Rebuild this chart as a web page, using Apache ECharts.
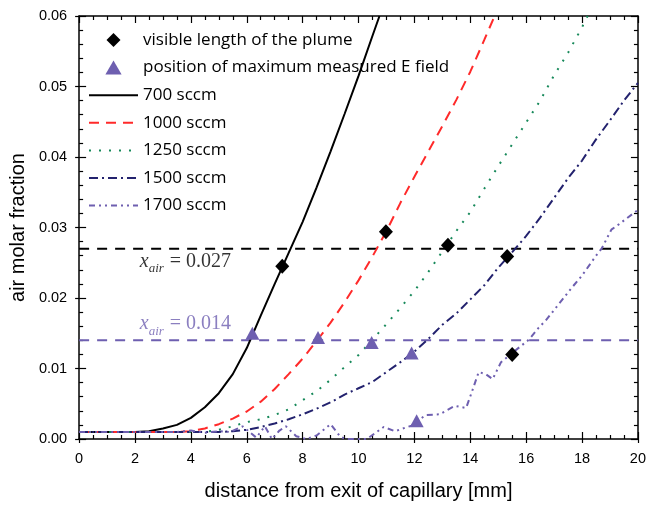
<!DOCTYPE html>
<html><head><meta charset="utf-8">
<script src="https://cdn.jsdelivr.net/npm/echarts@6/dist/echarts.min.js"></script>
<style>html,body{margin:0;padding:0;background:#fff}#c{width:649px;height:506px}</style>
</head><body><div id="c"></div>
<script>
// ---- data ----
const xTickLabels = ['0','2','4','6','8','10','12','14','16','18','20'];
const yTickLabels = ['0.00','0.01','0.02','0.03','0.04','0.05','0.06'];

const s700X  = [0,2,2.5,3,3.5,4,4.5,5,5.5,6,6.5,7,7.5,8,8.5,9,9.5,10,10.5,10.75];
const s700Y  = [0.001,0.001,0.0011,0.0015,0.002,0.003,0.0045,0.0065,0.0092,0.0129,0.0175,0.022,0.0264,0.0308,0.0357,0.0408,0.0461,0.0515,0.0572,0.06];

const s1000X = [0,3.5,4,4.5,5,5.5,6,6.5,7,7.5,8,8.5,9,9.5,10,10.5,11,11.5,12,12.5,13,13.5,14,14.5,14.87];
const s1000Y = [0.001,0.001,0.0011,0.0015,0.0021,0.0029,0.0039,0.0053,0.0071,0.0092,0.0114,0.0139,0.0165,0.0194,0.0225,0.0259,0.0295,0.0335,0.0372,0.0408,0.0444,0.0481,0.0521,0.0566,0.06];

const s1250X = [0,4.5,5,5.5,6,6.5,7,7.5,8,8.5,9,9.5,10,10.5,11,11.5,12,12.5,13,13.5,14,14.5,15,15.5,16,16.5,17,17.5,18,18.2];
const s1250Y = [0.001,0.001,0.0013,0.0018,0.0024,0.0028,0.0034,0.0042,0.0055,0.0068,0.0084,0.0102,0.0119,0.0141,0.0163,0.0186,0.021,0.0237,0.0266,0.0295,0.0322,0.0355,0.0387,0.0418,0.0449,0.048,0.0516,0.0548,0.0584,0.06];

const s1500X = [0,5,5.5,6,6.5,7,7.5,8,8.5,9,9.5,10,10.5,11,11.5,12,12.5,13,13.5,14,14.5,15,15.5,16,16.5,17,17.5,18,18.5,19,19.5,20];
const s1500Y = [0.001,0.001,0.0011,0.0013,0.0017,0.0022,0.0028,0.0035,0.0043,0.0052,0.0063,0.0072,0.0081,0.0095,0.0109,0.0124,0.0142,0.0162,0.0178,0.0198,0.0218,0.0243,0.0265,0.0288,0.0314,0.0342,0.037,0.0395,0.0425,0.0452,0.048,0.0505];

const s1700X = [0,3.5,4,4.5,5,5.4,5.85,6.34,6.65,6.9,7.17,7.4,7.77,8.13,8.5,9.0,9.35,9.55,10.3,10.9,11.3,11.9,12.4,12.9,13.45,13.85,14.05,14.3,14.55,14.8,15.1,15.5,16.1,16.45,16.7,17.3,17.6,18.0,18.5,18.7,19.05,19.3,20];
const s1700Y = [0.001,0.001,0.0012,0.0009,0.0011,0.001,0.0018,0.0002,0.0018,0,0.0012,0.0018,0.0004,0,0.0005,0.0021,0.0003,0,0,0.0017,0.0011,0.0019,0.0034,0.0035,0.0047,0.0044,0.0066,0.0095,0.0092,0.0085,0.0109,0.0122,0.0141,0.0158,0.0168,0.0198,0.0213,0.0232,0.026,0.027,0.0297,0.0304,0.0325];

const plumeX = [7.27, 10.98, 13.2, 15.32, 15.5];
const plumeY = [0.0245, 0.0294, 0.0275, 0.0259, 0.012];

const efieldX = [6.2, 8.55, 10.47, 11.9, 12.08];
const efieldY = [0.015, 0.0144, 0.0137, 0.0122, 0.0026];

const refLevels = [0.027, 0.014];
const refLabels = ['0.027', '0.014'];

const seriesNames = ['700 sccm', '1000 sccm', '1250 sccm', '1500 sccm', '1700 sccm'];
const markerNames = ['visible length of the plume', 'position of maximum measured E field'];

// ---- helpers ----
const zip = (xs, ys) => xs.map((x, i) => [x, ys[i]]);
const PURPLE = '#6e5fb0';
const NAVY = '#23226e';
const GREEN = '#17895a';
const RED = '#ff2a2a';
const DIAMOND_ICON = 'path://M0,-1L1,0L0,1L-1,0Z';
const TRIANGLE_ICON = 'path://M0,-1L1.1,0.9L-1.1,0.9Z';

const chart = echarts.init(document.getElementById('c'), null, {renderer: 'canvas'});

const tickLine = {color: '#000', width: 1.2};
const xBase = {type: 'value', min: 0, max: 20, interval: 2, splitLine: {show: false}, gridIndex: 0};
const yBase = {type: 'value', min: 0, max: 0.06, interval: 0.01, splitLine: {show: false}, gridIndex: 0};

function lineSeries(name, xs, ys, color, dash) {
  return {
    name, type: 'line', data: zip(xs, ys), symbol: 'none', smooth: false,
    lineStyle: {color, width: 2, type: dash, cap: 'butt'},
    itemStyle: {color}, z: 3, animation: false
  };
}

function labelItem(x, y, text, color) {
  return {value: [x, y], label: {formatter: '{x|x}{s|air}{n| = ' + text + '}',
    rich: {x: {fontFamily: 'Liberation Serif', fontStyle: 'italic', fontSize: 20, color},
           s: {fontFamily: 'Liberation Serif', fontStyle: 'italic', fontSize: 13, color, padding: [14, 1, 0, 0]},
           n: {fontFamily: 'Liberation Serif', fontSize: 20, color}}}};
}

const option = {
  animation: false,
  backgroundColor: '#fff',
  grid: {left: 79, right: 9, top: 16, bottom: 66, containLabel: false},
  xAxis: [
    Object.assign({}, xBase, {
      position: 'bottom',
      name: 'distance from exit of capillary [mm]', nameLocation: 'middle', nameGap: 42,
      nameTextStyle: {fontFamily: 'Liberation Sans', fontSize: 20, color: '#000'},
      axisLine: {show: true, onZero: false, lineStyle: {color: '#000', width: 1.5}},
      axisTick: {show: true, inside: true, length: 7, lineStyle: tickLine},
      minorTick: {show: true, splitNumber: 4, length: 4, lineStyle: tickLine},
      axisLabel: {show: true, margin: 12, fontFamily: 'Liberation Sans', fontSize: 14.5, color: '#000',
        formatter: v => xTickLabels[Math.round(v / 2)]}
    }),
    Object.assign({}, xBase, {
      position: 'bottom',
      axisLine: {show: false, onZero: false},
      axisTick: {show: true, inside: false, length: 4, lineStyle: tickLine},
      minorTick: {show: false}, axisLabel: {show: false}
    }),
    Object.assign({}, xBase, {
      position: 'top',
      axisLine: {show: true, onZero: false, lineStyle: {color: '#000', width: 1.5}},
      axisTick: {show: true, inside: true, length: 7, lineStyle: tickLine},
      minorTick: {show: true, splitNumber: 4, length: 4, lineStyle: tickLine},
      axisLabel: {show: false}
    })
  ],
  yAxis: [
    Object.assign({}, yBase, {
      position: 'left',
      name: 'air molar fraction', nameLocation: 'middle', nameGap: 46, nameRotate: 90,
      nameTextStyle: {fontFamily: 'Liberation Sans', fontSize: 20, color: '#000'},
      axisLine: {show: true, onZero: false, lineStyle: {color: '#000', width: 1.5}},
      axisTick: {show: true, inside: true, length: 7, lineStyle: tickLine},
      minorTick: {show: true, splitNumber: 5, length: 4, lineStyle: tickLine},
      axisLabel: {show: true, margin: 12, fontFamily: 'Liberation Sans', fontSize: 14.5, color: '#000',
        formatter: v => yTickLabels[Math.round(v * 100)]}
    }),
    Object.assign({}, yBase, {
      position: 'left',
      axisLine: {show: false, onZero: false},
      axisTick: {show: true, inside: false, length: 4, lineStyle: tickLine},
      minorTick: {show: false}, axisLabel: {show: false}
    }),
    Object.assign({}, yBase, {
      position: 'right',
      axisLine: {show: true, onZero: false, lineStyle: {color: '#000', width: 1.5}},
      axisTick: {show: true, inside: true, length: 7, lineStyle: tickLine},
      minorTick: {show: true, splitNumber: 5, length: 4, lineStyle: tickLine},
      axisLabel: {show: false}
    })
  ],
  legend: {
    orient: 'vertical', left: 83, top: 26.5, itemWidth: 49, itemHeight: 14, itemGap: 10.6,
    symbolKeepAspect: true,
    textStyle: {fontFamily: 'Open Sans', fontSize: 17, color: '#000'},
    data: [
      {name: markerNames[0], icon: DIAMOND_ICON, itemStyle: {opacity: 1}},
      {name: markerNames[1], icon: TRIANGLE_ICON, itemStyle: {opacity: 1}}
    ].concat(seriesNames.map(n => ({name: n, itemStyle: {opacity: 0}}))),
    selectedMode: false
  },
  series: [
    {name: 'ref027', type: 'line', symbol: 'none', data: [[0, refLevels[0]], [20, refLevels[0]]],
      lineStyle: {color: '#000', width: 2, type: [10, 8]}, z: 2},
    {name: 'ref014', type: 'line', symbol: 'none', data: [[0, refLevels[1]], [20, refLevels[1]]],
      lineStyle: {color: PURPLE, width: 2, type: [10, 8]}, z: 2},
    lineSeries(seriesNames[0], s700X, s700Y, '#000', 'solid'),
    lineSeries(seriesNames[1], s1000X, s1000Y, RED, [10, 7]),
    lineSeries(seriesNames[2], s1250X, s1250Y, GREEN, [2, 8]),
    lineSeries(seriesNames[3], s1500X, s1500Y, NAVY, [9, 4, 2, 4]),
    lineSeries(seriesNames[4], s1700X, s1700Y, PURPLE, [6, 4, 2, 4, 2, 4]),
    {name: markerNames[0], type: 'scatter', symbol: 'diamond', symbolSize: [14, 15],
      data: zip(plumeX, plumeY), itemStyle: {color: '#000', opacity: 1}, z: 5},
    {name: markerNames[1], type: 'scatter', symbol: 'triangle', symbolSize: [14, 13],
      data: zip(efieldX, efieldY), itemStyle: {color: PURPLE, opacity: 1}, z: 5},
    {name: 'labels', type: 'scatter', symbolSize: 0, z: 6, silent: true,
      data: [labelItem(2.17, 0.0252, refLabels[0], '#000'), labelItem(2.17, 0.0163, refLabels[1], PURPLE)],
      label: {show: true, position: 'right', distance: 0}
    }
  ]
};
chart.setOption(option);
</script>
</body></html>
